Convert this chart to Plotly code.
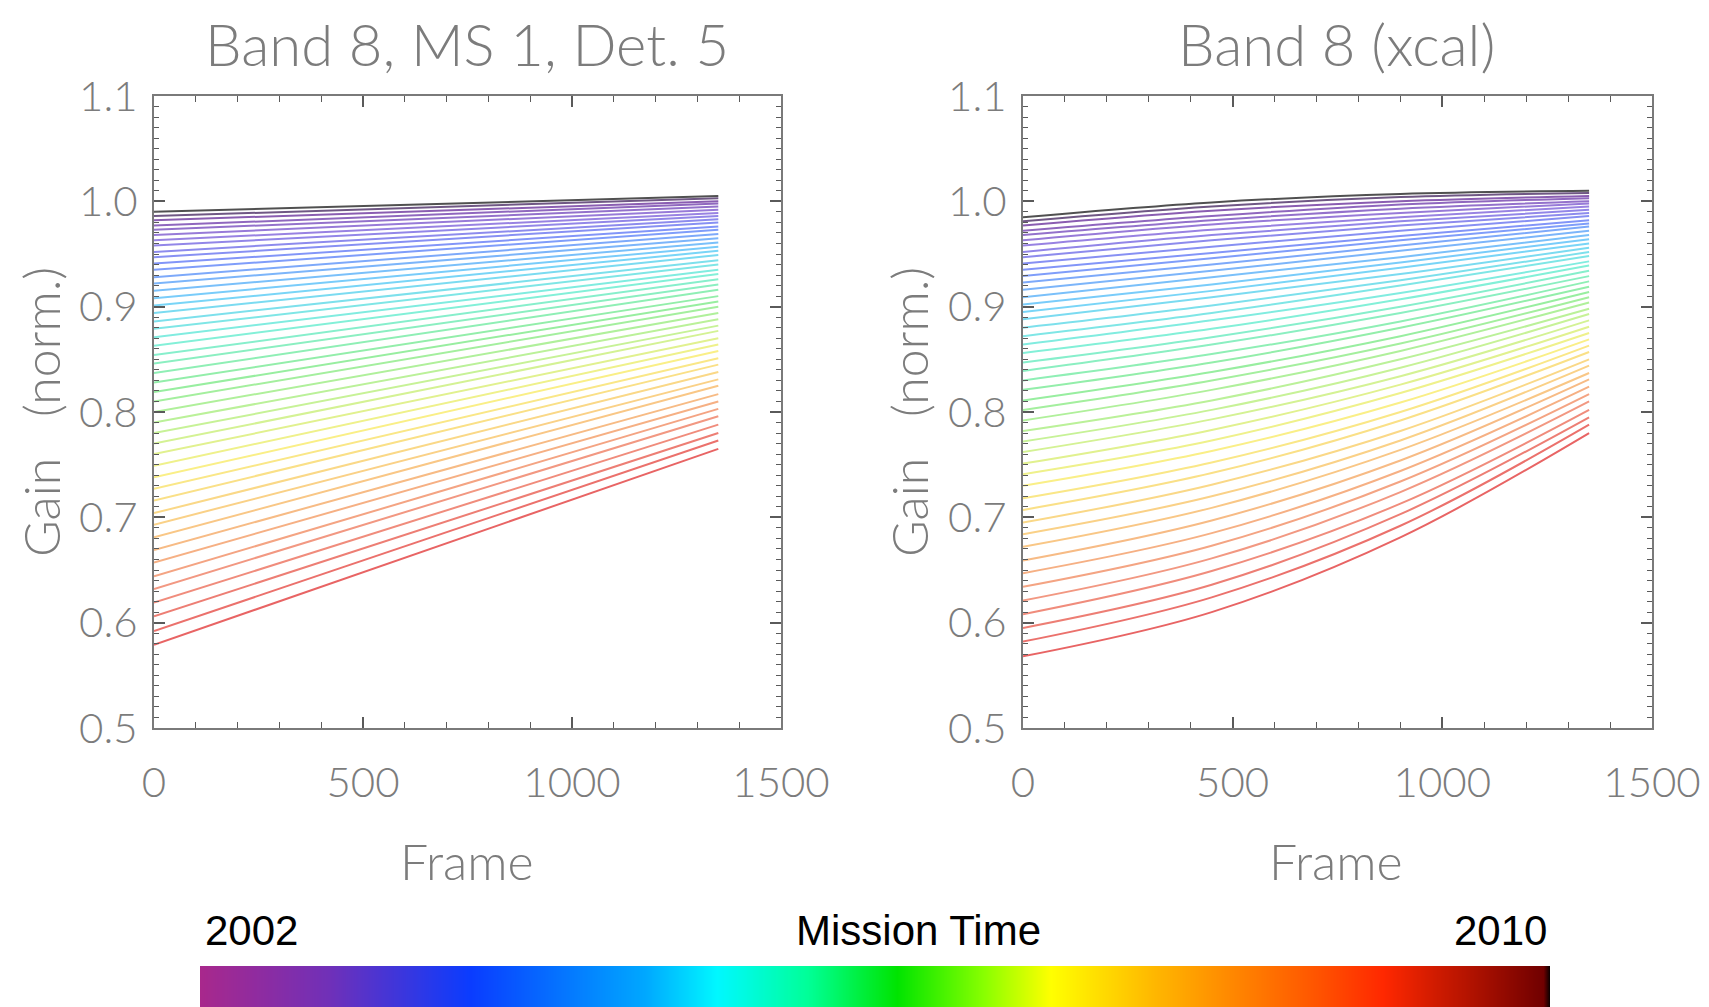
import plotly.graph_objs as go
from plotly.colors import sample_colorscale

# Mission time of each gain curve (bi-monthly)
mission_time = [2002.00, 2002.17, 2002.33, 2002.50, 2002.67, 2002.83,
                2003.00, 2003.17, 2003.33, 2003.50, 2003.67, 2003.83,
                2004.00, 2004.17, 2004.33, 2004.50, 2004.67, 2004.83,
                2005.00, 2005.17, 2005.33, 2005.50, 2005.67, 2005.83,
                2006.00, 2006.17, 2006.33, 2006.50, 2006.67, 2006.83,
                2007.00, 2007.17, 2007.33, 2007.50, 2007.67, 2007.83,
                2008.00, 2008.17, 2008.33, 2008.50, 2008.67, 2008.83,
                2009.00, 2009.17, 2009.33, 2009.50, 2009.67, 2009.83]

# Band 8, MS 1, Det. 5 : gain at first and last frame
frames_left = [0, 1350]
gain_left_start = [0.990, 0.986, 0.982, 0.977, 0.973, 0.968, 0.963, 0.958, 0.952, 0.947,
                   0.941, 0.935, 0.928, 0.922, 0.915, 0.908, 0.901, 0.894, 0.886, 0.879,
                   0.871, 0.863, 0.854, 0.846, 0.837, 0.828, 0.819, 0.810, 0.800, 0.790,
                   0.780, 0.770, 0.760, 0.749, 0.738, 0.727, 0.716, 0.704, 0.693, 0.681,
                   0.669, 0.657, 0.644, 0.632, 0.619, 0.606, 0.592, 0.579]
gain_left_end = [1.005, 1.003, 1.000, 0.998, 0.995, 0.992, 0.989, 0.986, 0.983, 0.980,
                 0.976, 0.973, 0.969, 0.965, 0.961, 0.957, 0.953, 0.949, 0.944, 0.940,
                 0.935, 0.931, 0.926, 0.921, 0.916, 0.910, 0.905, 0.900, 0.894, 0.888,
                 0.882, 0.877, 0.870, 0.864, 0.858, 0.851, 0.845, 0.838, 0.831, 0.825,
                 0.817, 0.810, 0.803, 0.796, 0.788, 0.780, 0.773, 0.765]

# Band 8 (xcal) : gain at frames 0, 450, 900, 1350
frames_right = [0, 450, 900, 1350]
gain_right_f0 = [0.985, 0.981, 0.977, 0.972, 0.968, 0.963, 0.958, 0.952, 0.947, 0.941,
                 0.935, 0.929, 0.923, 0.916, 0.909, 0.902, 0.895, 0.888, 0.880, 0.872,
                 0.864, 0.856, 0.847, 0.839, 0.830, 0.821, 0.811, 0.802, 0.792, 0.782,
                 0.772, 0.762, 0.751, 0.741, 0.730, 0.718, 0.707, 0.695, 0.684, 0.672,
                 0.659, 0.647, 0.634, 0.621, 0.608, 0.595, 0.582, 0.568]
gain_right_f450 = [0.999, 0.995, 0.991, 0.986, 0.982, 0.978, 0.973, 0.968, 0.963, 0.957,
                   0.951, 0.946, 0.940, 0.934, 0.928, 0.921, 0.915, 0.909, 0.901, 0.894,
                   0.887, 0.879, 0.871, 0.864, 0.855, 0.847, 0.838, 0.830, 0.821, 0.811,
                   0.802, 0.793, 0.783, 0.773, 0.763, 0.752, 0.742, 0.731, 0.720, 0.709,
                   0.697, 0.685, 0.673, 0.661, 0.649, 0.636, 0.624, 0.610]
gain_right_f900 = [1.007, 1.004, 1.000, 0.997, 0.993, 0.989, 0.985, 0.981, 0.977, 0.972,
                   0.967, 0.963, 0.958, 0.953, 0.947, 0.942, 0.937, 0.931, 0.925, 0.920,
                   0.913, 0.907, 0.900, 0.894, 0.886, 0.880, 0.872, 0.865, 0.858, 0.850,
                   0.842, 0.834, 0.826, 0.818, 0.809, 0.800, 0.792, 0.782, 0.773, 0.764,
                   0.754, 0.744, 0.734, 0.724, 0.713, 0.703, 0.692, 0.681]
gain_right_f1350 = [1.010, 1.008, 1.005, 1.003, 1.000, 0.998, 0.995, 0.992, 0.989, 0.986,
                    0.982, 0.979, 0.976, 0.972, 0.968, 0.964, 0.960, 0.956, 0.952, 0.948,
                    0.943, 0.939, 0.934, 0.929, 0.924, 0.919, 0.914, 0.909, 0.904, 0.898,
                    0.893, 0.887, 0.881, 0.875, 0.869, 0.863, 0.857, 0.850, 0.844, 0.837,
                    0.831, 0.824, 0.817, 0.810, 0.802, 0.795, 0.788, 0.780]

# IDL-like rainbow for the curves, and the colour bar shown below the plots
line_scale = [[0.0, 'rgb(80,80,80)'], [0.04, 'rgb(138,92,176)'], [0.12, 'rgb(154,128,224)'],
              [0.22, 'rgb(128,150,250)'], [0.33, 'rgb(120,210,250)'], [0.44, 'rgb(130,240,220)'],
              [0.55, 'rgb(150,238,160)'], [0.65, 'rgb(205,242,150)'], [0.72, 'rgb(250,240,135)'],
              [0.82, 'rgb(250,205,135)'], [0.92, 'rgb(242,150,130)'], [1.0, 'rgb(232,100,100)']]
bar_scale = [[0.0, '#a8288c'], [0.095, '#7030b8'], [0.2, '#0a3cff'], [0.33, '#00a8ff'],
             [0.383, '#00f8ff'], [0.45, '#00ff98'], [0.516, '#00e400'], [0.58, '#88ff00'],
             [0.63, '#ffff00'], [0.71, '#ffb400'], [0.82, '#ff5a00'], [0.876, '#ff2800'],
             [0.995, '#700000'], [1.0, '#000000']]

FONT = 'Lato, Liberation Sans, sans-serif'
BAR_FONT = 'Liberation Sans, Arial, sans-serif'
GREY = '#7c7c7c'

fig = go.Figure()

t0, t1 = mission_time[0], mission_time[-1]
for i, t in enumerate(mission_time):
    color = sample_colorscale(line_scale, (t - t0) / (t1 - t0))[0]
    fig.add_trace(go.Scatter(x=frames_left, y=[gain_left_start[i], gain_left_end[i]],
                             mode='lines', line=dict(color=color, width=2),
                             xaxis='x', yaxis='y', hoverinfo='skip', showlegend=False))
    fig.add_trace(go.Scatter(x=frames_right,
                             y=[gain_right_f0[i], gain_right_f450[i],
                                gain_right_f900[i], gain_right_f1350[i]],
                             mode='lines', line=dict(color=color, width=2, shape='spline'),
                             xaxis='x2', yaxis='y2', hoverinfo='skip', showlegend=False))

# Colour bar
fig.add_trace(go.Heatmap(x=mission_time, y=[0, 1], z=[mission_time, mission_time],
                         colorscale=bar_scale, zsmooth='best', showscale=False,
                         xaxis='x3', yaxis='y3', hoverinfo='skip'))

tick_font = dict(family=FONT, size=42, color=GREY, weight=300)
frame_axis = dict(range=[0, 1500], tickvals=[0, 500, 1000, 1500], automargin=False,
                  showgrid=False, zeroline=False, showline=True, linecolor='#7a7a7a',
                  linewidth=2, mirror='ticks', ticks='inside', ticklen=11, tickwidth=1.5,
                  tickcolor='#5a5a5a', ticklabelstandoff=17, ticklabeloverflow='allow',
                  tickfont=tick_font,
                  minor=dict(ticks='inside', dtick=100, ticklen=6, tickwidth=1.2,
                             tickcolor='#5a5a5a'))
gain_axis = dict(range=[0.5, 1.1], dtick=0.1, tick0=0.5, tickformat='.1f', automargin=False,
                 showgrid=False, zeroline=False, showline=True, linecolor='#7a7a7a',
                 linewidth=2, mirror='ticks', ticks='inside', ticklen=11, tickwidth=1.5,
                 tickcolor='#5a5a5a', ticklabelstandoff=6, tickfont=tick_font,
                 minor=dict(ticks='inside', dtick=0.01, ticklen=5, tickwidth=1.2,
                            tickcolor='#5a5a5a'))

# the page puts the figure 8 px in from the top-left corner
OFF = 8
W, H = 1709 - OFF, 1007 - OFF


def fx(px):
    return (px - OFF) / W


def fy(py):
    return 1 - (py - OFF) / H


y_dom = [fy(728), fy(96)]

fig.update_layout(
    template='none',
    width=W, height=H, margin=dict(l=0, r=0, t=0, b=0),
    paper_bgcolor='white', plot_bgcolor='white',
    xaxis=dict(frame_axis, domain=[fx(154), fx(781)], anchor='y'),
    yaxis=dict(gain_axis, domain=y_dom, anchor='x'),
    xaxis2=dict(frame_axis, domain=[fx(1023), fx(1652)], anchor='y2'),
    yaxis2=dict(gain_axis, domain=y_dom, anchor='x2'),
    xaxis3=dict(domain=[fx(200), fx(1550)], range=[t0, t1], visible=False, anchor='y3'),
    yaxis3=dict(domain=[0, fy(966)], range=[0, 1], visible=False, anchor='x3'),
)

texts = [
    ('Band 8, MS 1, Det. 5', 467, 44, 58, GREY, 0, FONT),
    ('Band 8 (xcal)', 1336, 44, 58, GREY, 0, FONT),
    ('Frame', 467, 861, 50, GREY, 0, FONT),
    ('Frame', 1336, 861, 50, GREY, 0, FONT),
    ('Gain   (norm.)', 41, 412, 50, GREY, -90, FONT),
    ('Gain   (norm.)', 909, 412, 50, GREY, -90, FONT),
    ('2002', 251, 930, 42, 'black', 0, BAR_FONT),
    ('Mission Time', 918, 930, 42, 'black', 0, BAR_FONT),
    ('2010', 1500, 930, 42, 'black', 0, BAR_FONT),
]
for txt, px, py, size, col, ang, fam in texts:
    weight = 300 if fam == FONT else 400
    fig.add_annotation(text=txt, x=fx(px), y=fy(py), xref='paper', yref='paper',
                       xanchor='center', yanchor='middle', showarrow=False,
                       textangle=ang, font=dict(family=fam, size=size, color=col, weight=weight))

fig.write_html("out.html")
